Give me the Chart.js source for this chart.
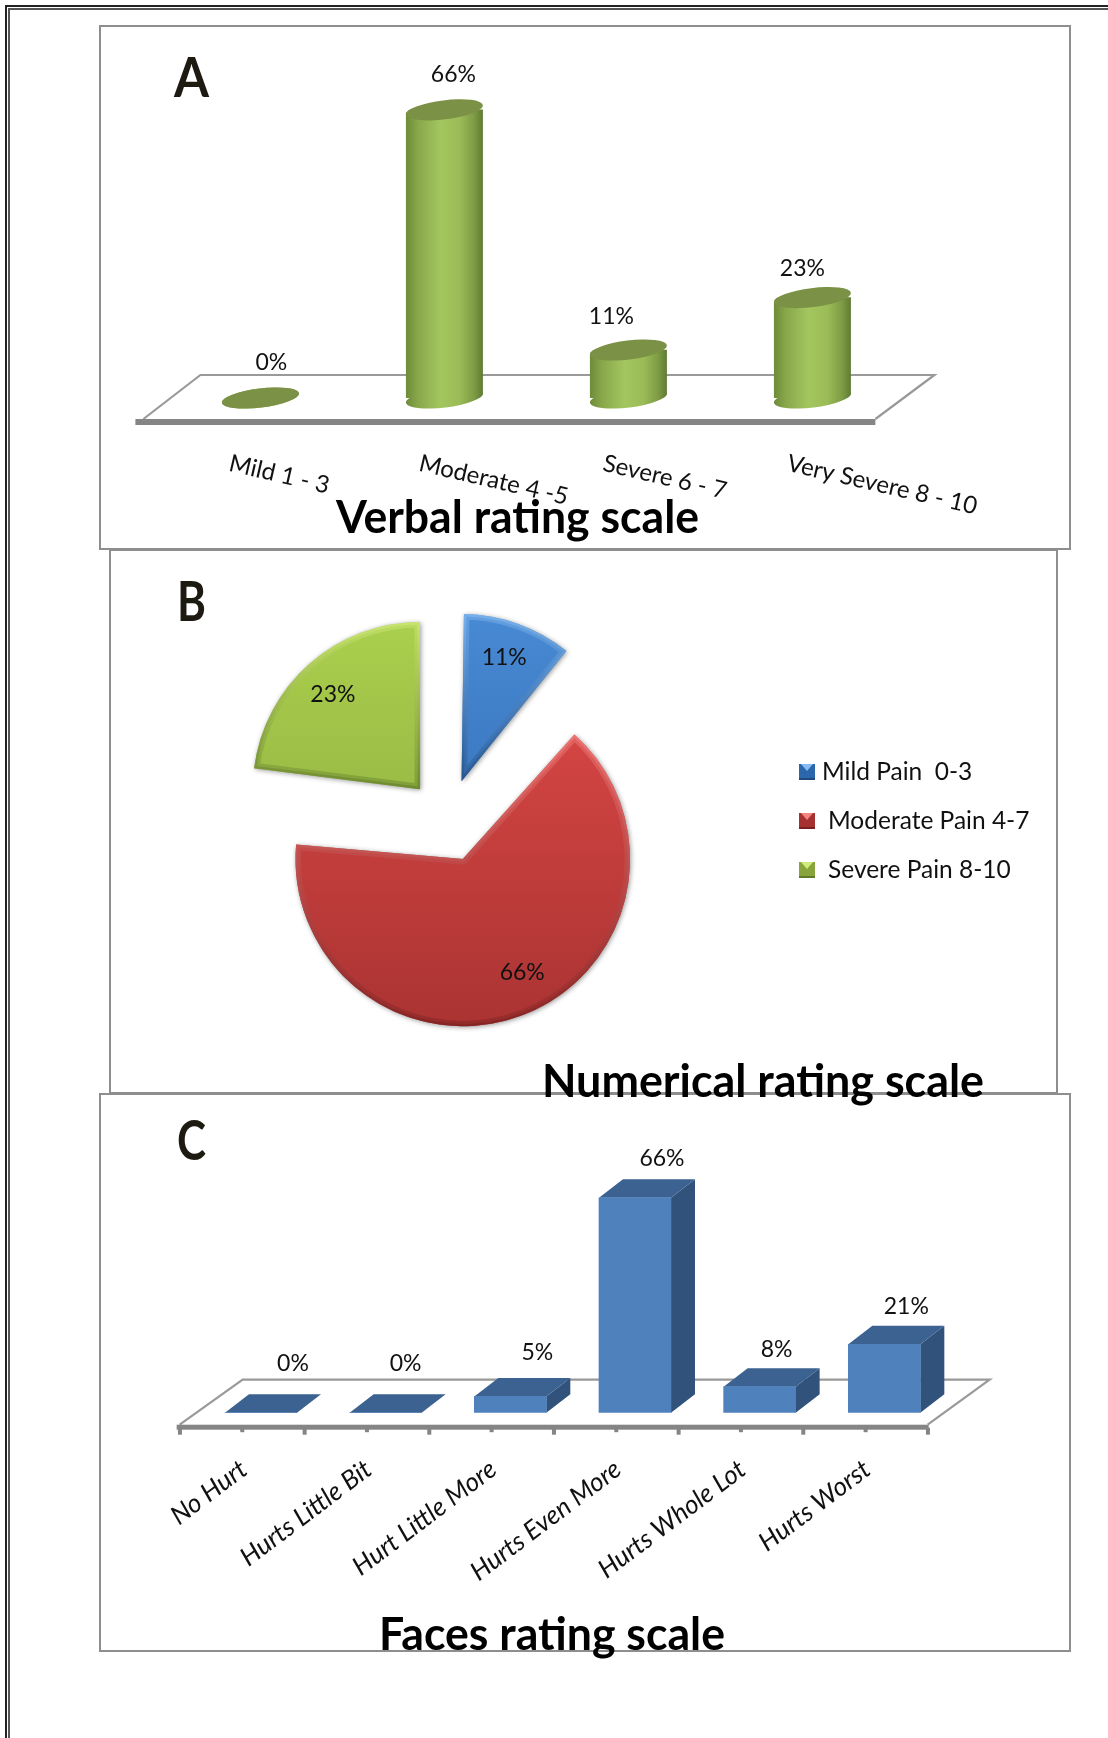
<!DOCTYPE html>
<html><head><meta charset="utf-8">
<script src="https://cdn.jsdelivr.net/npm/chart.js@4"></script>
<style>
html,body{margin:0;padding:0;background:#fff;width:1108px;height:1738px;overflow:hidden}
.box{position:absolute;box-sizing:border-box;border:2px solid #8e8e8e}
.rule{position:absolute}
canvas{position:absolute}
</style></head>
<body>
<div class="rule" style="left:5px;top:5px;right:0;height:2px;background:#222"></div>
<div class="rule" style="left:8px;top:8px;right:0;height:2px;background:#555"></div>
<div class="rule" style="left:5px;top:5px;bottom:0;width:2px;background:#222"></div>
<div class="rule" style="left:8px;top:8px;bottom:0;width:2px;background:#555"></div>
<div class="box" style="left:99px;top:25px;width:972px;height:525px"></div>
<div class="box" style="left:109px;top:549px;width:949px;height:545px"></div>
<div class="box" style="left:99px;top:1093px;width:972px;height:559px"></div>
<canvas id="chartB" width="950" height="570" style="left:109px;top:549px"></canvas>
<canvas id="chartA" width="971" height="524" style="left:99px;top:25px"></canvas>
<canvas id="chartC" width="971" height="600" style="left:99px;top:1093px"></canvas>
<script>
const verbalCategories = ['Mild 1 - 3', 'Moderate 4 -5', 'Severe 6 - 7', 'Very Severe 8 - 10'];
const verbalValues = [0, 66, 11, 23];
const numericCategories = ['Mild Pain  0-3', 'Moderate Pain 4-7', 'Severe Pain 8-10'];
const numericValues = [11, 66, 23];
const facesCategories = ['No Hurt', 'Hurts Little Bit', 'Hurt Little More', 'Hurts Even More', 'Hurts Whole Lot', 'Hurts Worst'];
const facesValues = [0, 0, 5, 66, 8, 21];

const FONT = 'Lato, Carlito, Calibri, sans-serif';
const verbalLabelShift = [[11,-35.5],[9,-35.5],[-17,-33],[-10,-29.5]];
const verbalTickShift = [-6, 0, 0, 0];
const facesLabelShift = [[32,-49],[20,-49],[27,-44],[27,-39],[17,-37],[22,-38]];
const pieLabelShift = [[-1,-3],[12,-6],[-2,2]];

Chart.defaults.font.family = FONT;
Chart.defaults.animation = false;

function fitText(ctx, text, x, baseline, width, font, color) {
  ctx.save();
  ctx.font = font; ctx.fillStyle = color; ctx.textAlign = 'left'; ctx.textBaseline = 'alphabetic';
  const m = ctx.measureText(text).width;
  ctx.translate(x, baseline); ctx.scale(width / m, 1);
  ctx.fillText(text, 0, 0);
  ctx.restore();
}
function panelText(spec) {
  return { id: 'panelText', afterDraw(chart) {
    const c = chart.ctx;
    fitText(c, spec.letter, spec.lx, spec.ly, spec.lw, 'bold 56px ' + FONT, '#1d1b11');
    fitText(c, spec.title, spec.tx, spec.ty, spec.tw, 'bold 45px ' + FONT, '#000');
  }};
}
function valueLabels(values, shifts) {
  return { id: 'valueLabels', afterDatasetsDraw(chart) {
    const c = chart.ctx, els = chart.getDatasetMeta(0).data;
    c.save(); c.font = '23px ' + FONT; c.fillStyle = '#111'; c.textAlign = 'center'; c.textBaseline = 'middle';
    els.forEach((e, i) => c.fillText(values[i] + '%', e.x + shifts[i][0], e.y + shifts[i][1]));
    c.restore();
  }};
}
function floor(c, s) {
  c.save();
  c.strokeStyle = '#999'; c.lineWidth = 2.2;
  c.beginPath();
  c.moveTo(s.fl, s.fy); c.lineTo(s.bl, s.by); c.lineTo(s.br, s.by); c.lineTo(s.fr, s.fy);
  c.stroke();
  c.fillStyle = '#858585';
  c.fillRect(s.tl, s.ty, s.tr - s.tl, s.th);
  c.restore();
}

/* ---------- A: cylinders ---------- */
const RX = 38.8, RY = 9.5, TILT = -7 * Math.PI / 180;
function cylGrad(c, x) {
  const g = c.createLinearGradient(x - RX, 0, x + RX, 0);
  g.addColorStop(0, '#6d8a38'); g.addColorStop(0.15, '#87a64a');
  g.addColorStop(0.45, '#a4c65f'); g.addColorStop(0.7, '#9abb57');
  g.addColorStop(0.88, '#7e9c45'); g.addColorStop(1, '#5f7a33');
  return g;
}
const cylinderPlugin = { id: 'cylinders',
  beforeDatasetsDraw(chart) {
    const c = chart.ctx, {left, right} = chart.chartArea, b = chart.chartArea.bottom;
    floor(c, {fl:left-25, fr:right-29, fy:b+21, bl:left+32, br:right+30, by:b-23, tl:left-33, tr:right-29, ty:b+21, th:6});
    const els = chart.getDatasetMeta(0).data;
    els.forEach(e => {
      c.fillStyle = cylGrad(c, e.x);
      c.beginPath(); c.ellipse(e.x, e.base, RX, RY, TILT, 0, Math.PI * 2); c.fill();
    });
    c.save();
    c.beginPath();
    els.forEach(e => {
      c.moveTo(e.x - RX * Math.cos(TILT), e.y - RX * Math.sin(TILT));
      c.ellipse(e.x, e.y, RX, RY, TILT, Math.PI, Math.PI * 2);
      c.ellipse(e.x, e.base, RX, RY, TILT, 0, Math.PI);
      c.closePath();
    });
    c.clip();
  },
  afterDatasetsDraw(chart) {
    const c = chart.ctx;
    c.restore();
    chart.getDatasetMeta(0).data.forEach(e => {
      c.fillStyle = '#7a9146';
      c.beginPath(); c.ellipse(e.x, e.y, RX, RY, TILT, 0, Math.PI * 2); c.fill();
    });
  }
};
new Chart(document.getElementById('chartA'), {
  type: 'bar',
  data: { labels: verbalCategories, datasets: [{ data: verbalValues, barThickness: 77.6,
    backgroundColor: ctx => {
      if (ctx.type !== 'data' || !ctx.chart.scales.x) return '#9bbb59';
      const x = ctx.chart.scales.x.getPixelForValue(ctx.dataIndex);
      return Number.isFinite(x) ? cylGrad(ctx.chart.ctx, x) : '#9bbb59';
    } }] },
  options: {
    responsive: false,
    layout: { padding: { left: 69.4, right: 165.6, top: 67.4, bottom: 151 } },
    plugins: { legend: { display: false }, tooltip: { enabled: false } },
    scales: { x: { display: false }, y: { display: false, min: 0, max: 70 } }
  },
  plugins: [cylinderPlugin, valueLabels(verbalValues, verbalLabelShift), {
    id: 'slantedTicks', afterDraw(chart) {
      const c = chart.ctx, x = chart.scales.x, b = chart.chartArea.bottom;
      c.save(); c.font = '24px ' + FONT; c.fillStyle = '#111'; c.textAlign = 'left'; c.textBaseline = 'middle';
      verbalCategories.forEach((t, i) => {
        c.save();
        c.translate(x.getPixelForValue(i) - 25 + verbalTickShift[i], b + 65);
        c.rotate(13 * Math.PI / 180);
        c.fillText(t, 0, 0);
        c.restore();
      });
      c.restore();
    }
  }, panelText({ letter: 'A', lx: 75, ly: 72, lw: 35, title: 'Verbal rating scale', tx: 237, ty: 508, tw: 363 })]
});

/* ---------- B: exploded pie ---------- */
const PIE_R = 167.3, PIE_OFFSET = 166;
const pieFill = [['#4b8dd8', '#2c66ab'], ['#de4a48', '#a53130'], ['#aed34f', '#87a53c']];
const pieEdge = [['#86bcf2', '#1e4a80'], ['#f58583', '#7a2020'], ['#d2ec7c', '#5f7a28']];
function vertGrad(chart, pair) {
  const a = chart.chartArea;
  if (!a || !Number.isFinite(a.top + a.bottom)) return pair[1];
  const cy = (a.top + a.bottom) / 2;
  const g = chart.ctx.createLinearGradient(0, cy - 205, 0, cy + 205);
  g.addColorStop(0, pair[0]); g.addColorStop(1, pair[1]);
  return g;
}
function arcFix(e) { return (PIE_OFFSET / 4) * (1 - Math.sin(Math.min(Math.PI, e.circumference))); }
new Chart(document.getElementById('chartB'), {
  type: 'pie',
  data: { labels: numericCategories, datasets: [{ data: numericValues, radius: 126, offset: PIE_OFFSET, borderWidth: 0,
    backgroundColor: ctx => vertGrad(ctx.chart, pieFill[ctx.dataIndex] || pieFill[0]) }] },
  options: {
    responsive: false,
    layout: { padding: { left: 0, right: 273, top: 0, bottom: 27.2 } },
    plugins: { legend: { display: false }, tooltip: { enabled: false } }
  },
  plugins: [{
    id: 'pieShadow',
    beforeDatasetsDraw(chart) {
      chart.getDatasetMeta(0).data.forEach(e => { e.outerRadius = PIE_R - arcFix(e); });
      const c = chart.ctx; c.save(); c.shadowColor = 'rgba(0,0,0,.4)'; c.shadowBlur = 5; c.shadowOffsetY = 1; c.shadowOffsetX = 1;
    },
    afterDatasetsDraw(chart) { chart.ctx.restore(); }
  }, {
    id: 'pieBevel', afterDatasetsDraw(chart) {
      const c = chart.ctx;
      chart.getDatasetMeta(0).data.forEach((e, i) => {
        const mid = (e.startAngle + e.endAngle) / 2, off = PIE_OFFSET / 4, alpha = e.endAngle - e.startAngle;
        const beta = (alpha * PIE_R - arcFix(e) / Math.PI) / PIE_R, ao = (alpha - beta) / 2;
        const ax = e.x + Math.cos(mid) * off, ay = e.y + Math.sin(mid) * off;
        const pts = [ay, ay + PIE_R * Math.sin(e.startAngle), ay + PIE_R * Math.sin(e.endAngle)];
        if (e.endAngle > Math.PI / 2 && e.startAngle < Math.PI / 2) pts.push(ay + PIE_R);
        const g = c.createLinearGradient(0, Math.min(...pts), 0, Math.max(...pts));
        g.addColorStop(0, pieEdge[i][0]); g.addColorStop(1, pieEdge[i][1]);
        c.save();
        c.beginPath(); c.moveTo(ax, ay); c.arc(ax, ay, PIE_R, e.startAngle + ao, e.endAngle - ao); c.closePath();
        c.clip();
        c.strokeStyle = g; c.lineJoin = 'round';
        c.globalAlpha = 0.45; c.lineWidth = 11; c.stroke();
        c.globalAlpha = 0.55; c.lineWidth = 5; c.stroke();
        c.restore();
      });
    }
  }, {
    id: 'pieLabels', afterDatasetsDraw(chart) {
      const c = chart.ctx;
      c.save(); c.font = '23px ' + FONT; c.fillStyle = '#111'; c.textAlign = 'center'; c.textBaseline = 'middle';
      chart.getDatasetMeta(0).data.forEach((e, i) => {
        const mid = (e.startAngle + e.endAngle) / 2, d = PIE_OFFSET / 4 + 0.77 * PIE_R;
        c.fillText(numericValues[i] + '%', e.x + Math.cos(mid) * d + pieLabelShift[i][0], e.y + Math.sin(mid) * d + pieLabelShift[i][1]);
      });
      c.restore();
    }
  }, {
    id: 'pieLegend', afterDraw(chart) {
      const c = chart.ctx, xs = [713, 719, 719], ys = [223, 272, 321];
      numericCategories.forEach((t, i) => {
        const x = 690, y = ys[i] - 8;
        c.fillStyle = pieFill[i][1]; c.fillRect(x, y, 16, 16);
        c.fillStyle = pieEdge[i][0]; c.beginPath(); c.moveTo(x + 2, y); c.lineTo(x + 14, y); c.lineTo(x + 8, y + 7); c.closePath(); c.fill();
        c.fillStyle = pieEdge[i][1]; c.fillRect(x, y + 14, 16, 2);
        c.font = '24.5px ' + FONT; c.fillStyle = '#111'; c.textAlign = 'left'; c.textBaseline = 'middle';
        c.fillText(t, xs[i], ys[i]);
      });
    }
  }, panelText({ letter: 'B', lx: 68, ly: 72, lw: 29, title: 'Numerical rating scale', tx: 433, ty: 548, tw: 442 })]
});

/* ---------- C: 3-D columns ---------- */
const DX = 24, DY = 18.5;
const boxPlugin = { id: 'boxes', beforeDatasetsDraw(chart) {
  const c = chart.ctx, {left, right, bottom: b} = chart.chartArea;
  floor(c, {fl:left-19, fr:right-19, fy:b+12, bl:left+44, br:right+43, by:b-33, tl:left-22, tr:right-18, ty:b+12, th:5});
  const step = (right - left) / facesCategories.length;
  c.fillStyle = '#858585';
  for (let i = 0; i <= 2 * facesCategories.length; i++) {
    const px = left - 18.7 + i * step / 2;
    c.fillRect(px - 2, b + 15, 4, i % 2 ? 4.5 : 7);
  }
  chart.getDatasetMeta(0).data.forEach(e => {
    const l = e.x - e.width / 2, r = e.x + e.width / 2;
    if (e.base - e.y > 0.5) {
      c.fillStyle = '#30527b';
      c.beginPath(); c.moveTo(r, e.y); c.lineTo(r + DX, e.y - DY); c.lineTo(r + DX, e.base - DY); c.lineTo(r, e.base); c.closePath(); c.fill();
    }
    c.fillStyle = '#3b6291';
    c.beginPath(); c.moveTo(l, e.y); c.lineTo(l + DX, e.y - DY); c.lineTo(r + DX, e.y - DY); c.lineTo(r, e.y); c.closePath(); c.fill();
  });
}};
new Chart(document.getElementById('chartC'), {
  type: 'bar',
  data: { labels: facesCategories, datasets: [{ data: facesValues, barThickness: 72, backgroundColor: '#4f81bd' }] },
  options: {
    responsive: false,
    layout: { autoPadding: false, padding: { left: 99.65, right: 123.35, top: 91.7, bottom: 0 } },
    plugins: { legend: { display: false }, tooltip: { enabled: false } },
    scales: {
      y: { display: false, min: 0, max: 70 },
      x: {
        afterFit(s) { s.height = 280.3; },
        grid: { display: false }, border: { display: false },
        ticks: { autoSkip: false, minRotation: 37, maxRotation: 37, padding: 33, labelOffset: -17,
                 color: '#111', font: { size: 26, style: 'italic', family: FONT } }
      }
    }
  },
  plugins: [boxPlugin, valueLabels(facesValues, facesLabelShift),
    panelText({ letter: 'C', lx: 78, ly: 67, lw: 29, title: 'Faces rating scale', tx: 280, ty: 557, tw: 346 })]
});
</script>
</body></html>
